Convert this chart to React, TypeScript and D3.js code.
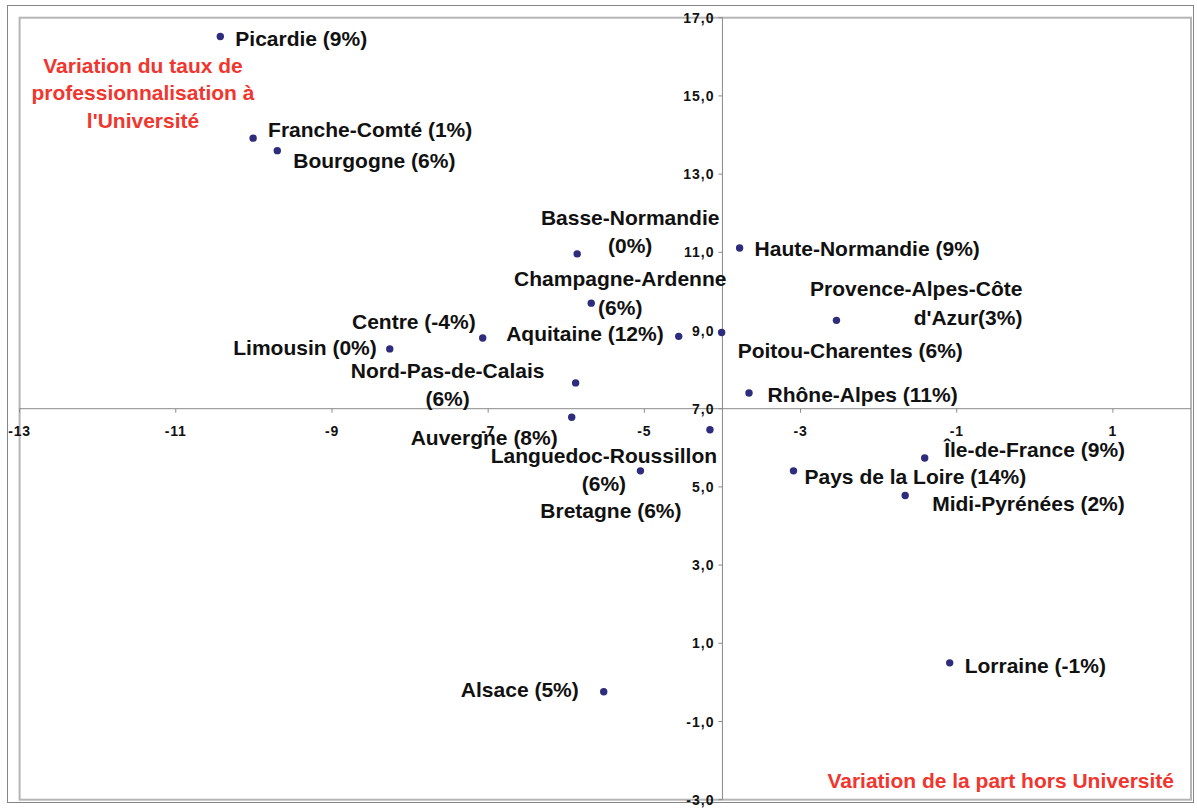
import React from "react";
import * as d3 from "d3";

// ---- data ----
const regions = [
  "Picardie", "Franche-Comté", "Bourgogne", "Basse-Normandie", "Haute-Normandie",
  "Champagne-Ardenne", "Provence-Alpes-Côte d'Azur", "Centre", "Aquitaine", "Poitou-Charentes",
  "Limousin", "Nord-Pas-de-Calais", "Rhône-Alpes", "Auvergne", "Languedoc-Roussillon",
  "Bretagne", "Île-de-France", "Pays de la Loire", "Midi-Pyrénées", "Lorraine", "Alsace",
];
// Variation de la part hors Université
const xValues = [
  -10.43, -10.01, -9.7, -5.86, -3.78,
  -5.68, -2.54, -7.07, -4.56, -4.01,
  -8.26, -5.88, -3.66, -5.93, -4.16,
  -5.05, -1.41, -3.09, -1.66, -1.09, -5.52,
];
// Variation du taux de professionnalisation à l'Université
const yValues = [
  16.52, 13.92, 13.6, 10.96, 11.11,
  9.7, 9.26, 8.81, 8.85, 8.95,
  8.53, 7.66, 7.4, 6.78, 6.46,
  5.41, 5.74, 5.41, 4.78, 0.5, -0.24,
];
const pctLabels = [
  "9%", "1%", "6%", "0%", "9%",
  "6%", "3%", "-4%", "12%", "6%",
  "0%", "6%", "11%", "8%", "6%",
  "6%", "9%", "14%", "2%", "-1%", "5%",
];
const xTicks = [-13, -11, -9, -7, -5, -3, -1, 1];
const yTicks = [-3, -1, 1, 3, 5, 7, 9, 11, 13, 15, 17];
const xDomain = [-13, 2];
const yDomain = [-3, 17];
const xCross = 7; // horizontal axis crosses at y = 7
const yCross = -4; // vertical axis crosses at x = -4
const yTitleLines = ["Variation du taux de", "professionnalisation à", "l'Université"];
const xTitle = "Variation de la part hors Université";

// ---- label layout (pixel offsets from the marker) ----
type Lay = { dx: number; dy: number; anchor: string; split?: string };
const labelLayout: Lay[] = [
  { dx: 15, dy: 9.5, anchor: "start" },
  { dx: 15, dy: -1.5, anchor: "start" },
  { dx: 16, dy: 17, anchor: "start" },
  { dx: 53, dy: -29, anchor: "middle", split: "pct" },
  { dx: 15, dy: 8.5, anchor: "start" },
  { dx: 29, dy: -17, anchor: "middle", split: "pct" },
  { dx: 186, dy: -24, anchor: "end", split: "Provence-Alpes-Côte" },
  { dx: -7, dy: -9, anchor: "end" },
  { dx: -15, dy: 5, anchor: "end" },
  { dx: 16, dy: 25.5, anchor: "start" },
  { dx: -13, dy: 6.5, anchor: "end" },
  { dx: -128, dy: -5, anchor: "middle", split: "pct" },
  { dx: 18.5, dy: 8.5, anchor: "start" },
  { dx: -14, dy: 28, anchor: "end" },
  { dx: -106, dy: 33, anchor: "middle", split: "pct" },
  { dx: -29.5, dy: 47, anchor: "middle" },
  { dx: 19.5, dy: -1, anchor: "start" },
  { dx: 11, dy: 13, anchor: "start" },
  { dx: 27, dy: 15.7, anchor: "start" },
  { dx: 15, dy: 10, anchor: "start" },
  { dx: -25, dy: 5, anchor: "end" },
];

const W = 1197;
const H = 809;
const FONT = "'Liberation Sans', Arial, Helvetica, sans-serif";
const RED = "#f0362e";
const DOT = "#2e2c7c";

function labelLines(i: number): string[] {
  const name = regions[i];
  const pct = pctLabels[i];
  const lay = labelLayout[i];
  if (!lay.split) return [`${name} (${pct})`];
  if (lay.split === "pct") return [name, `(${pct})`];
  const first = lay.split;
  const rest = name.slice(first.length).trim();
  return [first, `${rest}(${pct})`];
}

export default function App() {
  const x = d3.scaleLinear().domain(xDomain).range([19.6, 1191]);
  const y = d3.scaleLinear().domain(yDomain).range([799.7, 17.7]);
  const axisY = y(xCross);
  const axisX = x(yCross);
  const fmtY = (v: number) => v.toFixed(1).replace(".", ",");

  return (
    <svg
      width={W}
      height={H}
      style={{ position: "absolute", left: 0, top: 0, background: "#fff" }}
      fontFamily={FONT}
    >
      <rect x={0} y={0} width={W} height={H} fill="#fff" />
      {/* outer chart border */}
      <rect x={7.5} y={5.5} width={1186} height={797} fill="none" stroke="#858585" strokeWidth={1} />
      {/* plot area border */}
      <rect
        x={x(xDomain[0])}
        y={y(yDomain[1])}
        width={x(xDomain[1]) - x(xDomain[0])}
        height={y(yDomain[0]) - y(yDomain[1])}
        fill="#fff"
        stroke="#b5b5b5"
        strokeWidth={2}
      />
      {/* horizontal axis */}
      <line x1={x(xDomain[0])} x2={x(xDomain[1])} y1={axisY} y2={axisY} stroke="#8a8a8a" strokeWidth={1} />
      {xTicks.map((t) => (
        <g key={"xt" + t}>
          <line x1={x(t)} x2={x(t)} y1={axisY} y2={axisY + 4} stroke="#8a8a8a" />
          <text
            x={x(t)}
            y={axisY + 27}
            textAnchor="middle"
            fontSize={14}
            fontWeight="bold"
            letterSpacing={0.8}
            fill="#111"
          >
            {`${t}`}
          </text>
        </g>
      ))}
      {/* vertical axis */}
      <line x1={axisX} x2={axisX} y1={y(yDomain[0])} y2={y(yDomain[1])} stroke="#8a8a8a" strokeWidth={1} />
      {yTicks.map((t) => (
        <g key={"yt" + t}>
          <line x1={axisX - 4} x2={axisX} y1={y(t)} y2={y(t)} stroke="#8a8a8a" />
          <text
            x={axisX - 8}
            y={y(t) + 5}
            textAnchor="end"
            fontSize={14}
            fontWeight="bold"
            letterSpacing={1}
            fill="#111"
          >
            {fmtY(t)}
          </text>
        </g>
      ))}
      {/* points */}
      {regions.map((r, i) => (
        <circle key={"p" + r} cx={x(xValues[i])} cy={y(yValues[i])} r={3.7} fill={DOT} />
      ))}
      {/* labels */}
      {regions.map((r, i) => {
        const lay = labelLayout[i];
        const lines = labelLines(i);
        const px = x(xValues[i]) + lay.dx;
        const py = y(yValues[i]) + lay.dy;
        return (
          <text
            key={"l" + r}
            x={px}
            y={py}
            textAnchor={lay.anchor as any}
            fontSize={21}
            fontWeight="bold"
            fill="#111"
          >
            {lines.map((ln, k) => (
              <tspan key={k} x={px} dy={k === 0 ? 0 : 28.5}>
                {ln}
              </tspan>
            ))}
          </text>
        );
      })}
      {/* axis titles */}
      <text x={143} y={72.7} textAnchor="middle" fontSize={21} fontWeight="bold" fill={RED}>
        {yTitleLines.map((ln, k) => (
          <tspan key={k} x={143} dy={k === 0 ? 0 : 27.5}>
            {ln}
          </tspan>
        ))}
      </text>
      <text x={1174} y={788} textAnchor="end" fontSize={21} fontWeight="bold" fill={RED}>
        {xTitle}
      </text>
    </svg>
  );
}
